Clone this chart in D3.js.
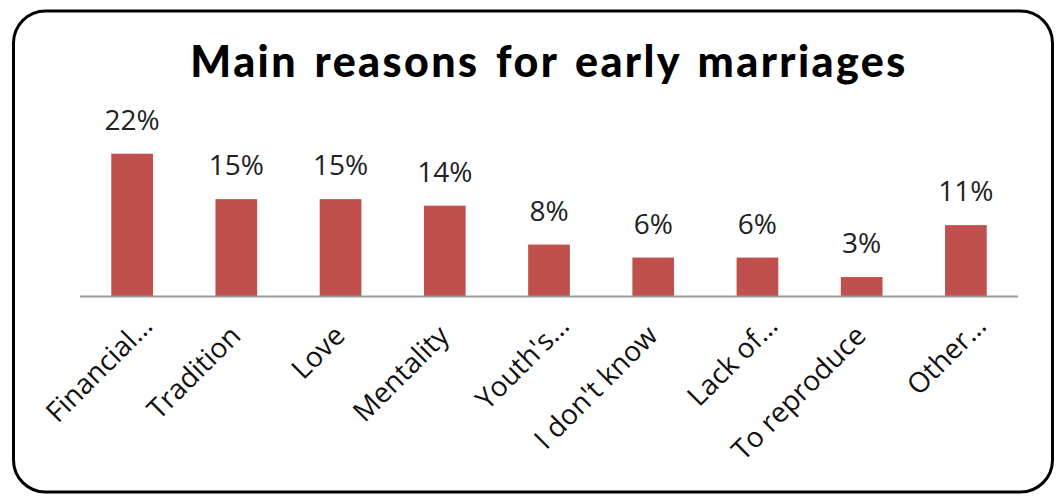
<!DOCTYPE html>
<html>
<head>
<meta charset="utf-8">
<script src="https://cdn.jsdelivr.net/npm/d3@7"></script>
<style>
  html, body { margin: 0; padding: 0; background: #fff; }
</style>
</head>
<body>
<div id="chart"></div>
<script>
// Main reasons for early marriages — single-series column chart

var categories = ["Financial…", "Tradition", "Love", "Mentality", "Youth's…",
                  "I don't know", "Lack of…", "To reproduce", "Other…"];
var values = [22, 15, 15, 14, 8, 6, 6, 3, 11];
var titleText = "Main reasons for early marriages";

var totalW = 1056, totalH = 496;
var plot = { left: 80, right: 1018, top: 134.25, bottom: 296.5 };

var svg = d3.select("#chart").append("svg")
    .attr("width", totalW)
    .attr("height", totalH);

// --- Frame ---
svg.append("rect")
    .attr("x", 13.5)
    .attr("y", 11)
    .attr("width", 1039)
    .attr("height", 481)
    .attr("rx", 32)
    .attr("ry", 32)
    .style("fill", "#fff")
    .style("stroke", "#000")
    .style("stroke-width", 3);

// --- Title ---
svg.append("text")
    .attr("x", 549)
    .attr("y", 77)
    .attr("text-anchor", "middle")
    .style("font-family", "Lato, 'Open Sans', sans-serif")
    .style("font-weight", "900")
    .style("font-size", "43px")
    .style("letter-spacing", "2.4px")
    .style("word-spacing", "4px")
    .style("fill", "#000")
    .text(titleText);

// --- Scales ---
var x = d3.scaleBand()
    .domain(categories)
    .range([plot.left, plot.right])
    .paddingInner(0.6)
    .paddingOuter(0.3);

var y = d3.scaleLinear()
    .domain([0, 25])
    .range([plot.bottom, plot.top]);

var data = categories.map(function(c, i) { return { cat: c, value: values[i] }; });

// --- Bars ---
svg.append("g")
    .selectAll("rect")
    .data(data)
    .join("rect")
    .attr("x", function(d) { return x(d.cat); })
    .attr("y", function(d) { return y(d.value); })
    .attr("width", x.bandwidth())
    .attr("height", function(d) { return y(0) - y(d.value); })
    .style("fill", "#C0504D");

// --- Value labels ---
svg.append("g")
    .selectAll("text")
    .data(data)
    .join("text")
    .attr("x", function(d) { return x(d.cat) + x.bandwidth() / 2; })
    .attr("y", function(d) { return y(d.value) - 24; })
    .attr("text-anchor", "middle")
    .style("font-family", "'Open Sans', sans-serif")
    .style("font-size", "28px")
    .style("fill", "#222")
    .text(function(d) { return d.value + "%"; });

// --- Category axis ---
var xAxis = svg.append("g")
    .attr("transform", "translate(0," + plot.bottom + ")")
    .call(d3.axisBottom(x).tickSize(0).tickPadding(0));

xAxis.select(".domain")
    .attr("d", "M" + plot.left + ",0H" + plot.right)
    .style("stroke", "#9a9a9a")
    .style("stroke-width", 2);

// truncated labels sit a little higher and further right, as in the original
xAxis.selectAll(".tick text")
    .attr("text-anchor", "end")
    .attr("y", 0)
    .attr("dy", 0)
    .attr("transform", function(d) {
        var trunc = d.slice(-1) === "…";
        var dx = trunc ? 22 : 6;
        var dy = trunc ? 31 : 41;
        return "translate(" + dx + "," + dy + ") rotate(-45)";
    })
    .style("font-family", "'Open Sans', sans-serif")
    .style("font-size", "28px")
    .style("fill", "#111");
</script>
</body>
</html>
